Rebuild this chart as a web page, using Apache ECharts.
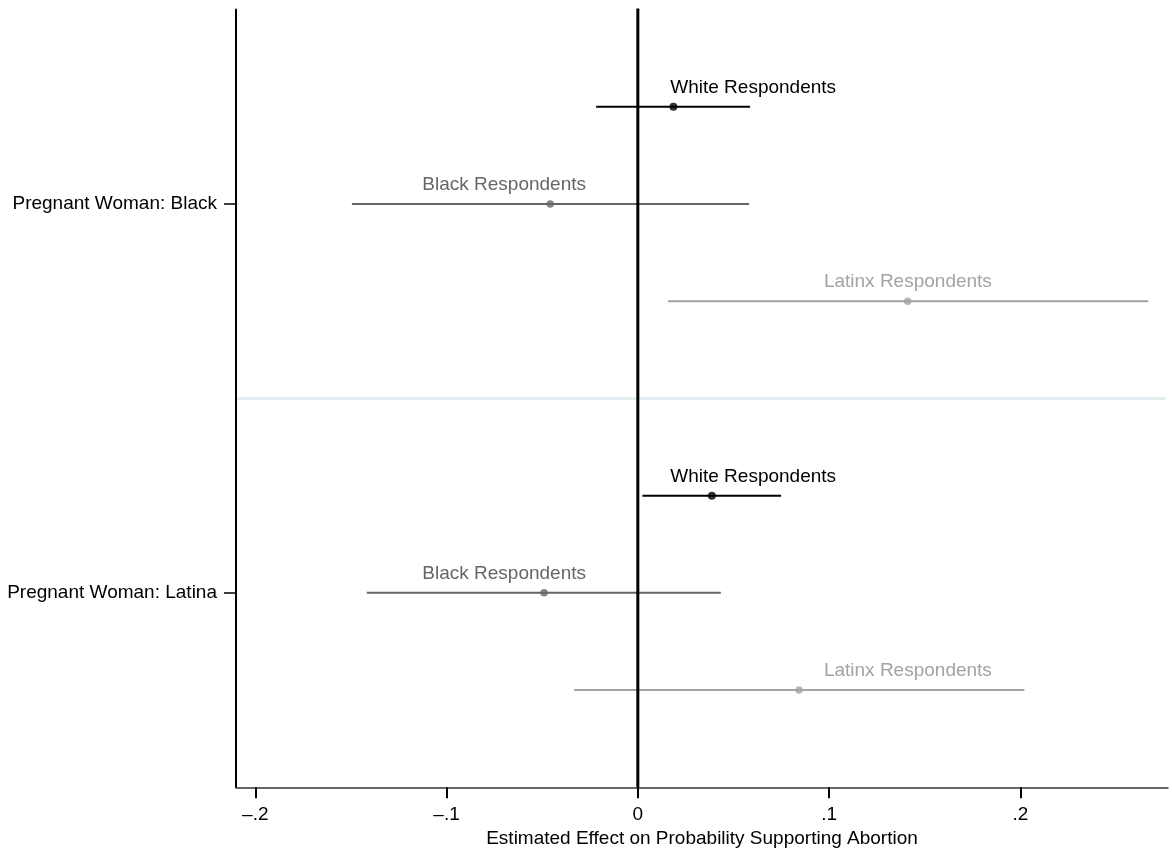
<!DOCTYPE html>
<html>
<head>
<meta charset="utf-8">
<script src="https://cdn.jsdelivr.net/npm/echarts@6/dist/echarts.min.js"></script>
<style>
  html, body { margin: 0; padding: 0; background: #fff; }
  #chart { width: 1172px; height: 849px; }
</style>
</head>
<body>
<div id="chart"></div>
<script>
// Respondent groups, in plotting order within each panel
const respondentGroups = ['White Respondents', 'Black Respondents', 'Latinx Respondents'];
// Experimental conditions (y-axis categories)
const conditions = ['Pregnant Woman: Black', 'Pregnant Woman: Latina'];

// Estimated effects and 95% confidence bounds, one value per respondent group
const estBlack   = [0.0186, -0.0458, 0.1411];
const lowBlack   = [-0.0218, -0.1495, 0.0157];
const highBlack  = [0.0587, 0.0582, 0.2669];

const estLatina  = [0.0387, -0.0490, 0.0843];
const lowLatina  = [0.0024, -0.1417, -0.0333];
const highLatina = [0.0749, 0.0434, 0.2021];

// x-axis tick values
const xTicks = [-0.2, -0.1, 0, 0.1, 0.2];

// ---- layout / styling ----
const X_MIN = -0.2101, X_MAX = 0.2772;
const groupColors = ['#000000', '#666666', '#a3a3a3'];
const labelCenters = [0.0603, -0.0699, 0.1412]; // where each group's caption sits on x
const FONT = '"Liberation Sans", Arial, Helvetica, sans-serif';
const FS = 19;

// row slots on the y scale: panel 1 at 7,6,5 ; divider at 4 ; panel 2 at 3,2,1
const panels = [
  { est: estBlack, low: lowBlack, high: highBlack, base: 6 },
  { est: estLatina, low: lowLatina, high: highLatina, base: 2 }
];

const series = [];

// light divider between the two panels (drawn beneath everything)
series.push({
  type: 'custom',
  z: -1,
  silent: true,
  data: [[4]],
  renderItem: function (params, api) {
    const a = api.coord([X_MIN, api.value(0)]);
    const b = api.coord([X_MAX, api.value(0)]);
    return { type: 'line', shape: { x1: a[0] + 1.5, y1: a[1], x2: b[0] - 2, y2: b[1] },
             style: { stroke: '#e6eef1', lineWidth: 3 } };
  }
});

respondentGroups.forEach((name, g) => {
  const ciData = [];
  const ptData = [];
  panels.forEach(p => {
    const y = p.base + 1 - g;
    ciData.push([p.low[g], p.high[g], p.est[g], y, labelCenters[g]]);
    ptData.push([p.est[g], y]);
  });
  series.push({
    type: 'custom',
    name: name + ' CI',
    z: 3,
    data: ciData,
    renderItem: function (params, api) {
      const y = api.value(3);
      const a = api.coord([api.value(0), y]);
      const b = api.coord([api.value(1), y]);
      const t = api.coord([api.value(4), y]);
      return {
        type: 'group',
        children: [
          { type: 'line', shape: { x1: a[0], y1: a[1], x2: b[0], y2: b[1] },
            style: { stroke: groupColors[g], lineWidth: 2 } },
          { type: 'text', x: t[0], y: t[1] - 19,
            style: { text: name, fill: groupColors[g], font: FS + 'px ' + FONT,
                     textAlign: 'center', textVerticalAlign: 'middle' } }
        ]
      };
    }
  });
  series.push({
    type: 'scatter',
    name: name,
    z: 4,
    data: ptData,
    symbol: 'circle',
    symbolSize: g === 0 ? 8 : 7.5,
    itemStyle: { color: groupColors[g] }
  });
});

// reference line at zero effect, drawn on top
series.push({
  type: 'custom',
  z: 10,
  silent: true,
  data: [[0]],
  renderItem: function (params, api) {
    const a = api.coord([api.value(0), 8]);
    const b = api.coord([api.value(0), 0]);
    return { type: 'line', shape: { x1: a[0], y1: a[1] - 1, x2: b[0], y2: b[1] },
             style: { stroke: '#000', lineWidth: 3 } };
  }
});

const chart = echarts.init(document.getElementById('chart'), null, { renderer: 'canvas' });
chart.setOption({
  animation: false,
  backgroundColor: '#ffffff',
  grid: { left: 236, right: 4, top: 9.5, bottom: 61.7, containLabel: false,
          outerBoundsMode: 'none' },
  xAxis: {
    type: 'value',
    min: X_MIN,
    max: X_MAX,
    name: 'Estimated Effect on Probability Supporting Abortion',
    nameLocation: 'middle',
    nameGap: 42,
    nameTextStyle: { color: '#000', fontSize: FS, fontFamily: FONT },
    axisLine: { show: true, onZero: false, lineStyle: { color: '#333', width: 1.5 } },
    axisTick: { show: true, length: 11, lineStyle: { color: '#000', width: 2 },
                customValues: xTicks },
    axisLabel: {
      customValues: xTicks,
      margin: 18,
      color: '#000', fontSize: FS, fontFamily: FONT,
      formatter: v => {
        if (Math.abs(v) < 1e-9) return '0';
        return (v < 0 ? '\u2013' : '') + '.' + Math.round(Math.abs(v) * 10);
      }
    },
    splitLine: { show: false }
  },
  yAxis: {
    type: 'value',
    min: 0,
    max: 8,
    axisLine: { show: true, onZero: false, lineStyle: { color: '#000', width: 2 } },
    axisTick: { show: true, length: 12, lineStyle: { color: '#000', width: 1.5 },
                customValues: [6, 2] },
    axisLabel: {
      customValues: [6, 2],
      margin: 19,
      color: '#000', fontSize: FS, fontFamily: FONT,
      formatter: v => (v === 6 ? conditions[0] : v === 2 ? conditions[1] : '')
    },
    splitLine: { show: false }
  },
  series: series
});
</script>
</body>
</html>
